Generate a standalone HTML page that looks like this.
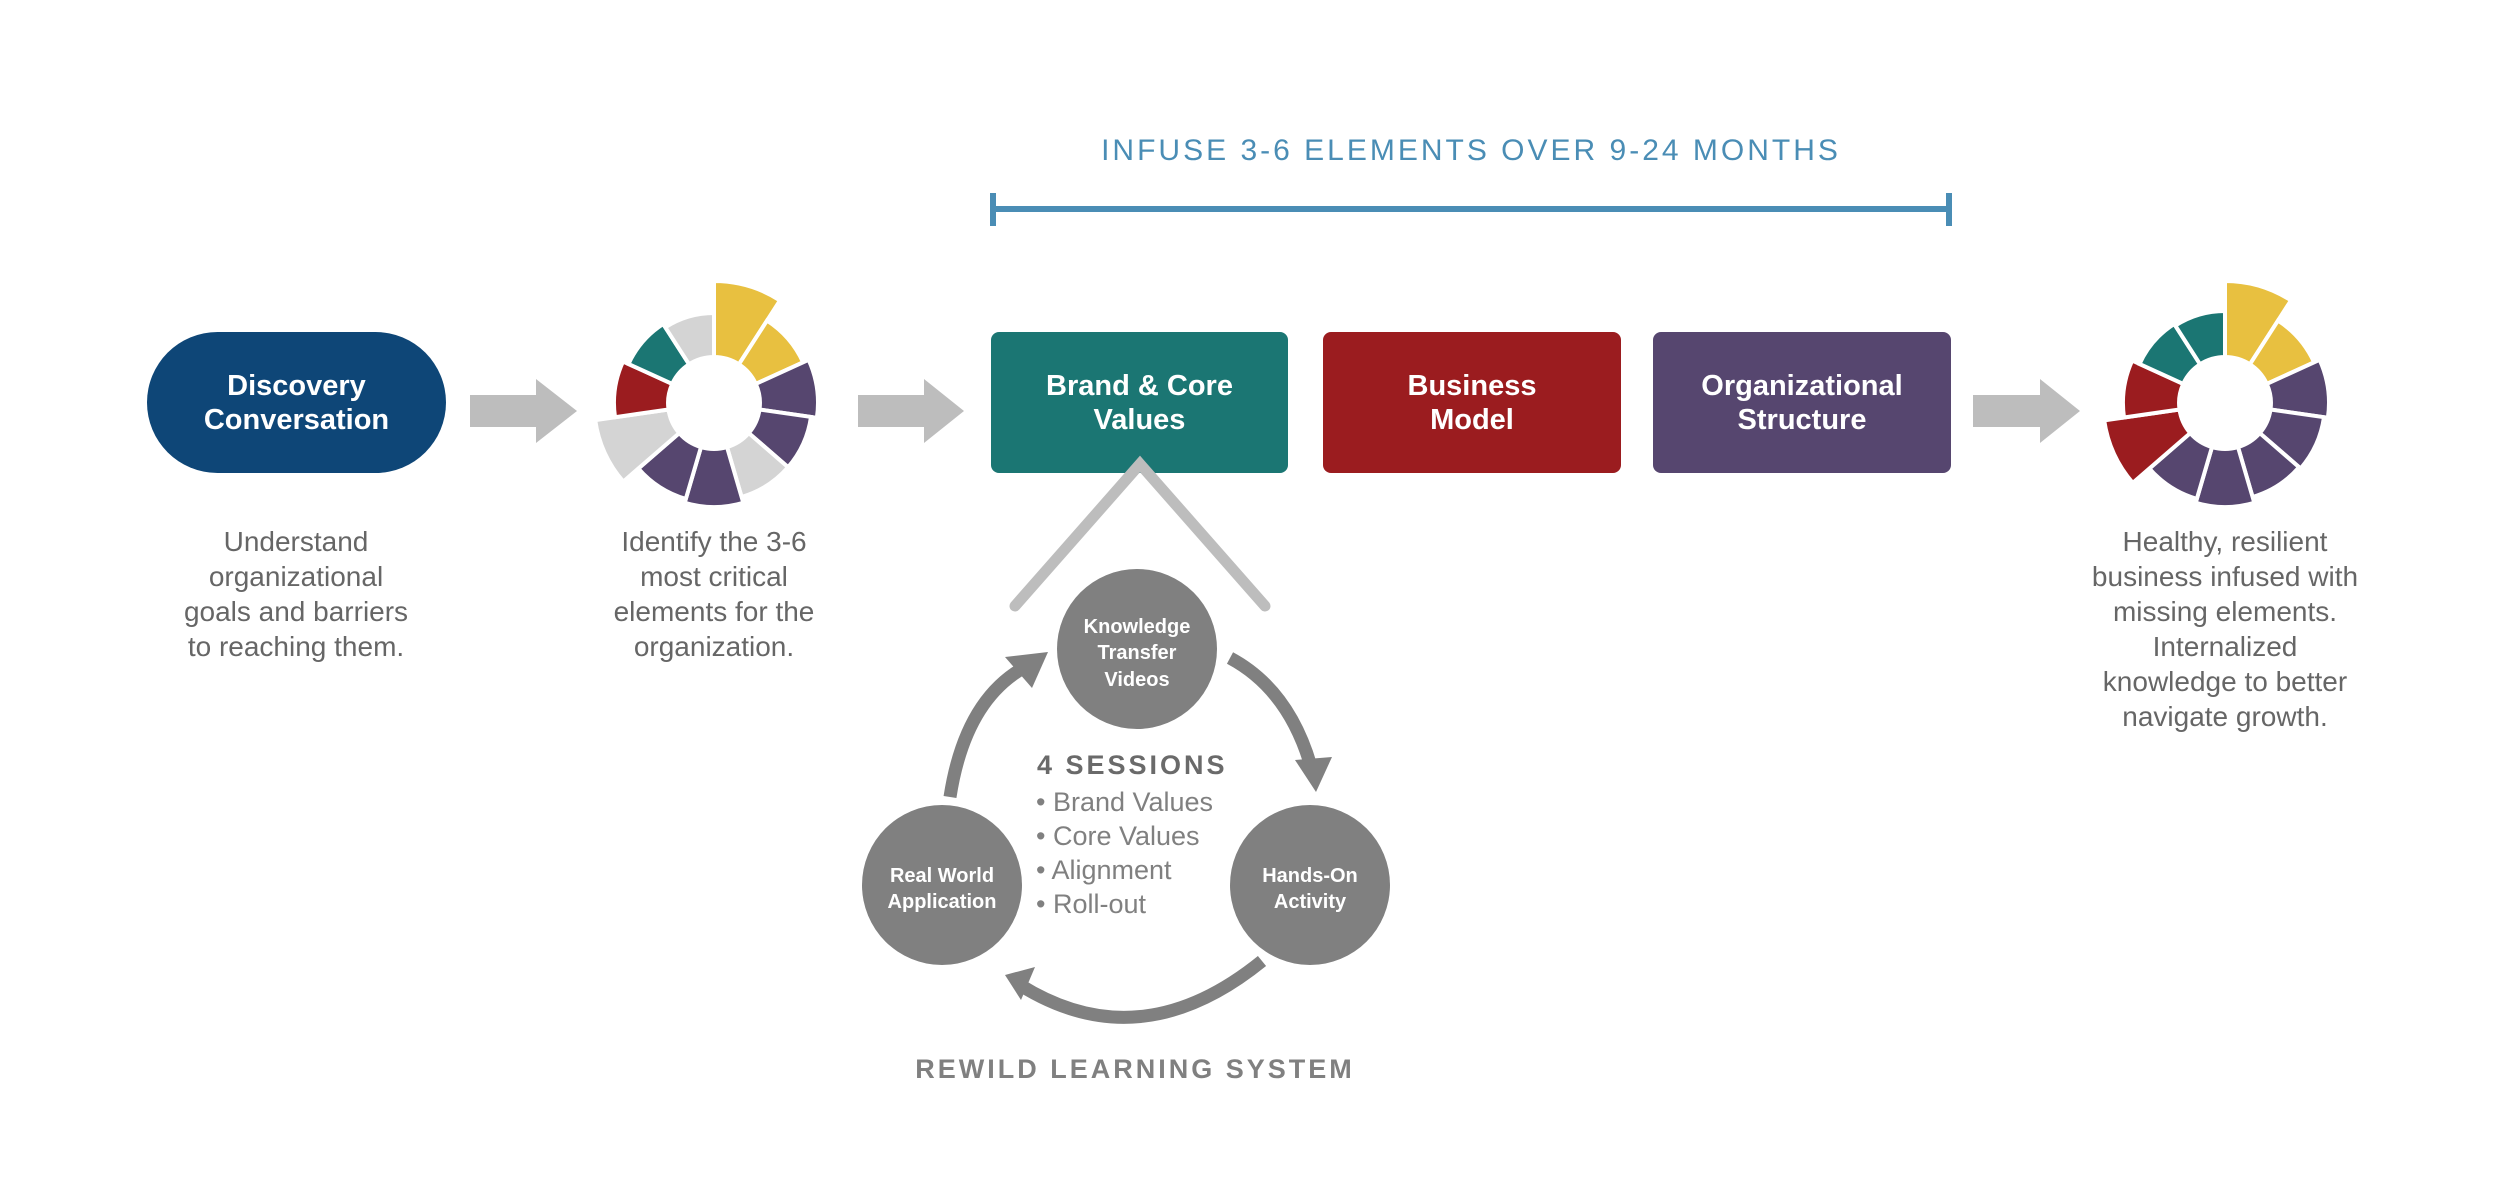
<!DOCTYPE html>
<html><head><meta charset="utf-8"><style>
html,body{margin:0;padding:0;background:#fff;}
body{width:2499px;height:1187px;position:relative;overflow:hidden;font-family:"Liberation Sans",sans-serif;}
.box{position:absolute;display:flex;align-items:center;justify-content:center;text-align:center;color:#fff;font-weight:bold;font-size:29px;line-height:34px;}
.desc{position:absolute;text-align:center;color:#666;font-size:28px;line-height:35px;width:360px;}
</style></head><body>
<div style="position:absolute;left:993px;width:956px;top:134px;text-align:center;color:#4a8db5;font-size:30px;letter-spacing:3px;">INFUSE 3-6 ELEMENTS OVER 9-24 MONTHS</div>
<div style="position:absolute;left:993px;top:206px;width:956px;height:6px;background:#4a8db5"></div>
<div style="position:absolute;left:990px;top:193px;width:6px;height:33px;background:#4a8db5"></div>
<div style="position:absolute;left:1946px;top:193px;width:6px;height:33px;background:#4a8db5"></div>

<div class="box" style="left:147px;top:332px;width:299px;height:141px;border-radius:71px;background:#0e4677;">Discovery<br>Conversation</div>
<div class="box" style="left:991px;top:332px;width:297px;height:141px;border-radius:8px;background:#1b7673;">Brand &amp; Core<br>Values</div>
<div class="box" style="left:1323px;top:332px;width:298px;height:141px;border-radius:8px;background:#9b1c1f;">Business<br>Model</div>
<div class="box" style="left:1653px;top:332px;width:298px;height:141px;border-radius:8px;background:#56466f;">Organizational<br>Structure</div>

<div class="desc" style="left:116px;top:524px;">Understand<br>organizational<br>goals and barriers<br>to reaching them.</div>
<div class="desc" style="left:534px;top:524px;">Identify the 3-6<br>most critical<br>elements for the<br>organization.</div>
<div class="desc" style="left:2045px;top:524px;">Healthy, resilient<br>business infused with<br>missing elements.<br>Internalized<br>knowledge to better<br>navigate growth.</div>

<svg width="2499" height="1187" style="position:absolute;left:0;top:0" id="s">
<g fill="#bdbdbd">
<polygon points="470,395 536,395 536,379 577,411 536,443 536,427 470,427"/>
<polygon points="858,395 924,395 924,379 964,411 924,443 924,427 858,427"/>
<polygon points="1973,395 2040,395 2040,379 2080,411 2040,443 2040,427 1973,427"/>
</g>
<polyline points="1015,606 1140,464 1265,606" fill="none" stroke="#bdbdbd" stroke-width="11" stroke-linecap="round" stroke-linejoin="miter"/>
<g fill="none" stroke="#808080" stroke-width="13">
<path d="M950,797 Q965,700 1025,667"/>
<path d="M1230,658 Q1290,690 1312,770"/>
<path d="M1262,961 Q1140,1060 1020,985"/>
</g>
<g fill="#808080">
<polygon points="1048,652 1005,657 1032,688"/>
<polygon points="1316,792 1295,760 1332,757"/>
<polygon points="1005,975 1035,967 1021,1000"/>
</g>
<g fill="#808080">
<circle cx="1137" cy="649" r="80"/><circle cx="942" cy="885" r="80"/><circle cx="1310" cy="885" r="80"/>
</g>
<g fill="#fff" font-family="Liberation Sans,sans-serif" font-weight="bold" font-size="20" text-anchor="middle">
<text x="1137" y="633">Knowledge</text><text x="1137" y="659">Transfer</text><text x="1137" y="686">Videos</text>
<text x="942" y="882">Real World</text><text x="942" y="908">Application</text>
<text x="1310" y="882">Hands-On</text><text x="1310" y="908">Activity</text>
</g>
<text x="1037" y="774" fill="#6a6a6a" font-weight="bold" font-size="27" letter-spacing="3" font-family="Liberation Sans,sans-serif">4 SESSIONS</text>
<g fill="#808080" font-size="27" font-family="Liberation Sans,sans-serif">
<text x="1036" y="811">• Brand Values</text><text x="1036" y="845">• Core Values</text><text x="1036" y="879">• Alignment</text><text x="1036" y="913">• Roll-out</text>
</g>
<text x="1135" y="1078" fill="#808080" font-weight="bold" font-size="27" letter-spacing="3" text-anchor="middle" font-family="Liberation Sans,sans-serif">REWILD LEARNING SYSTEM</text>
<g id="d1"></g><g id="d2"></g>
</svg>
<script>
function donut(g,cx,cy,segs){var n=segs.length,ri=46,h='';for(var i=0;i<n;i++){var a0=(i*360/n-90)*Math.PI/180,a1=((i+1)*360/n-90)*Math.PI/180,ro=segs[i][1];
function p(r,a){return (cx+r*Math.cos(a)).toFixed(1)+','+(cy+r*Math.sin(a)).toFixed(1);}
h+='<path d="M'+p(ri,a0)+' L'+p(ro,a0)+' A'+ro+','+ro+' 0 0 1 '+p(ro,a1)+' L'+p(ri,a1)+' A'+ri+','+ri+' 0 0 0 '+p(ri,a0)+'Z" fill="'+segs[i][0]+'" stroke="#fff" stroke-width="4"/>';}
document.getElementById(g).innerHTML=h;}
var Y='#e8c040',P='#56466f',L='#d4d4d4',R='#9b1c1f',T='#1b7673';
donut('d1',714,403,[[Y,122],[Y,98],[P,104],[P,98],[L,98],[P,104],[P,100],[L,120],[R,100],[T,94],[L,90]]);
donut('d2',2225,403,[[Y,122],[Y,98],[P,104],[P,100],[P,98],[P,104],[P,100],[R,122],[R,102],[T,94],[T,92]]);
</script>
</body></html>
